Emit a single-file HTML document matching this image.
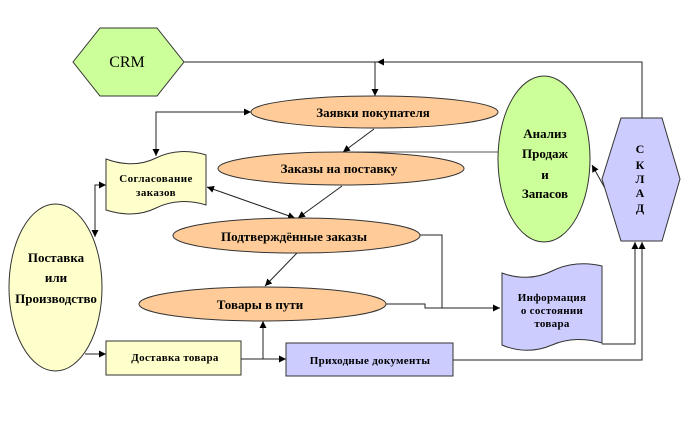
<!DOCTYPE html>
<html><head><meta charset="utf-8"><style>
html,body{margin:0;padding:0;background:#fff;}
svg{display:block;}
text{font-family:"Liberation Serif","DejaVu Serif",serif;font-weight:bold;fill:#000;text-anchor:middle;}
</style></head><body>
<svg width="682" height="430" viewBox="0 0 682 430" xmlns="http://www.w3.org/2000/svg">
<defs>
<marker id="a" viewBox="0 0 10 10" refX="10" refY="5" markerWidth="7" markerHeight="7" markerUnits="userSpaceOnUse" orient="auto-start-reverse">
<path d="M0,0 L10,5 L0,10 z" fill="#000"/>
</marker>
</defs>
<g fill="none" stroke="#222" stroke-width="1">
<!-- CRM / SKLAD top connectors -->
<line x1="184" y1="62" x2="378" y2="62"/>
<polyline points="642,118 642,62 377,62" marker-end="url(#a)"/>
<line x1="375" y1="62" x2="375" y2="96" marker-end="url(#a)"/>
<!-- Zayavki <-> Soglasovanie -->
<polyline points="156,156 156,112 251,112" marker-start="url(#a)" marker-end="url(#a)"/>
<!-- Zayavki -> Zakazy -->
<line x1="374" y1="129" x2="343" y2="152" marker-end="url(#a)"/>
<!-- Analiz -> Zakazy line -->
<line x1="498" y1="152" x2="345" y2="152" stroke="#555"/>
<!-- Soglasovanie <-> Podtverzhdennye -->
<line x1="207" y1="187" x2="295" y2="218" marker-start="url(#a)" marker-end="url(#a)"/>
<!-- Zakazy -> Podtverzhdennye -->
<line x1="342" y1="186" x2="298" y2="218" marker-end="url(#a)"/>
<!-- Podtverzhdennye -> Tovary -->
<line x1="297" y1="253" x2="265" y2="286" marker-end="url(#a)"/>
<!-- to Informatsiya -->
<polyline points="420,235 442,235 442,308"/>
<polyline points="386,304 425,304 425,308 500,308" marker-end="url(#a)"/>
<!-- Soglasovanie <-> Postavka -->
<polyline points="106,185 95,185 95,237" marker-start="url(#a)" marker-end="url(#a)"/>
<!-- Postavka -> Dostavka -->
<line x1="85" y1="354" x2="106" y2="354" marker-end="url(#a)"/>
<!-- Dostavka -> Tovary / Prikhodnye -->
<polyline points="241,359 263,359 263,321" marker-end="url(#a)"/>
<line x1="263" y1="359" x2="286" y2="359" marker-end="url(#a)"/>
<!-- Prikhodnye -> SKLAD -->
<polyline points="453,360 642,360 642,242" marker-end="url(#a)"/>
<!-- Informatsiya -> SKLAD -->
<polyline points="602,344 635,344 635,242" marker-end="url(#a)"/>
<!-- SKLAD -> Analiz -->
<line x1="606" y1="190" x2="592" y2="165" marker-end="url(#a)"/>
</g>

<g stroke="#333" stroke-width="1">
<!-- CRM -->
<polygon points="73,62 100,28 157,28 184,62 157,96 100,96" fill="#ccff99"/>
<!-- SKLAD -->
<polygon points="621,118 662,118 680,179 662,241 621,241 602,179" fill="#ccccff"/>
<!-- Analiz -->
<ellipse cx="544" cy="159" rx="46" ry="83" fill="#ccff99"/>
<!-- Orange ellipses -->
<ellipse cx="374.5" cy="112" rx="123.5" ry="16" fill="#ffcc99"/>
<ellipse cx="341" cy="168.5" rx="123" ry="16.5" fill="#ffcc99"/>
<ellipse cx="296.5" cy="235.5" rx="123.5" ry="17.5" fill="#ffcc99"/>
<ellipse cx="262.5" cy="304" rx="123.5" ry="17" fill="#ffcc99"/>
<!-- Postavka -->
<ellipse cx="55.5" cy="287.5" rx="46.5" ry="83.5" fill="#ffffcc"/>
<!-- Soglasovanie -->
<path d="M106,159 C122,165 140,166 156,158 C172,150 190,150 206,155 L206,205 C190,200 172,200 156,208 C140,216 122,215 106,210 Z" fill="#ffffcc"/>
<!-- Informatsiya -->
<path d="M502,273 C518,279 536,279 552,271 C568,263 586,262 602,266 L602,343 C586,338 568,338 552,345 C536,352 518,352 502,345 Z" fill="#ccccff"/>
<!-- Rects -->
<rect x="106" y="341" width="135" height="34" fill="#ffffcc"/>
<rect x="286" y="343" width="167" height="33" fill="#ccccff"/>
</g>

<text x="127" y="67" style="font-weight:normal;font-size:16px">CRM</text>
<text x="373" y="117" font-size="13">Заявки покупателя</text>
<text x="339" y="173" font-size="13">Заказы на поставку</text>
<text x="294" y="241" font-size="13">Подтверждённые заказы</text>
<text x="260" y="309" font-size="13">Товары в пути</text>
<text x="56" y="262" font-size="13">Поставка</text>
<text x="56" y="282" font-size="13">или</text>
<text x="56" y="303" font-size="13">Производство</text>
<text x="545" y="138" font-size="13">Анализ</text>
<text x="545" y="158" font-size="13">Продаж</text>
<text x="545" y="179" font-size="13">и</text>
<text x="545" y="198" font-size="13">Запасов</text>
<text x="640" y="153" font-size="12">С</text>
<text x="640" y="169" font-size="12">К</text>
<text x="640" y="183" font-size="12">Л</text>
<text x="640" y="197" font-size="12">А</text>
<text x="640" y="212" font-size="12">Д</text>
<text x="156" y="182" font-size="11" letter-spacing="0.4">Согласование</text>
<text x="156" y="196" font-size="11" letter-spacing="0.4">заказов</text>
<text x="175" y="361" font-size="11" letter-spacing="0.3">Доставка товара</text>
<text x="370" y="364" font-size="11" letter-spacing="0.3">Приходные документы</text>
<text x="552" y="301" font-size="11" letter-spacing="0.3">Информация</text>
<text x="552" y="314" font-size="11" letter-spacing="0.3">о состоянии</text>
<text x="552" y="327" font-size="11" letter-spacing="0.3">товара</text>
</svg>
</body></html>
